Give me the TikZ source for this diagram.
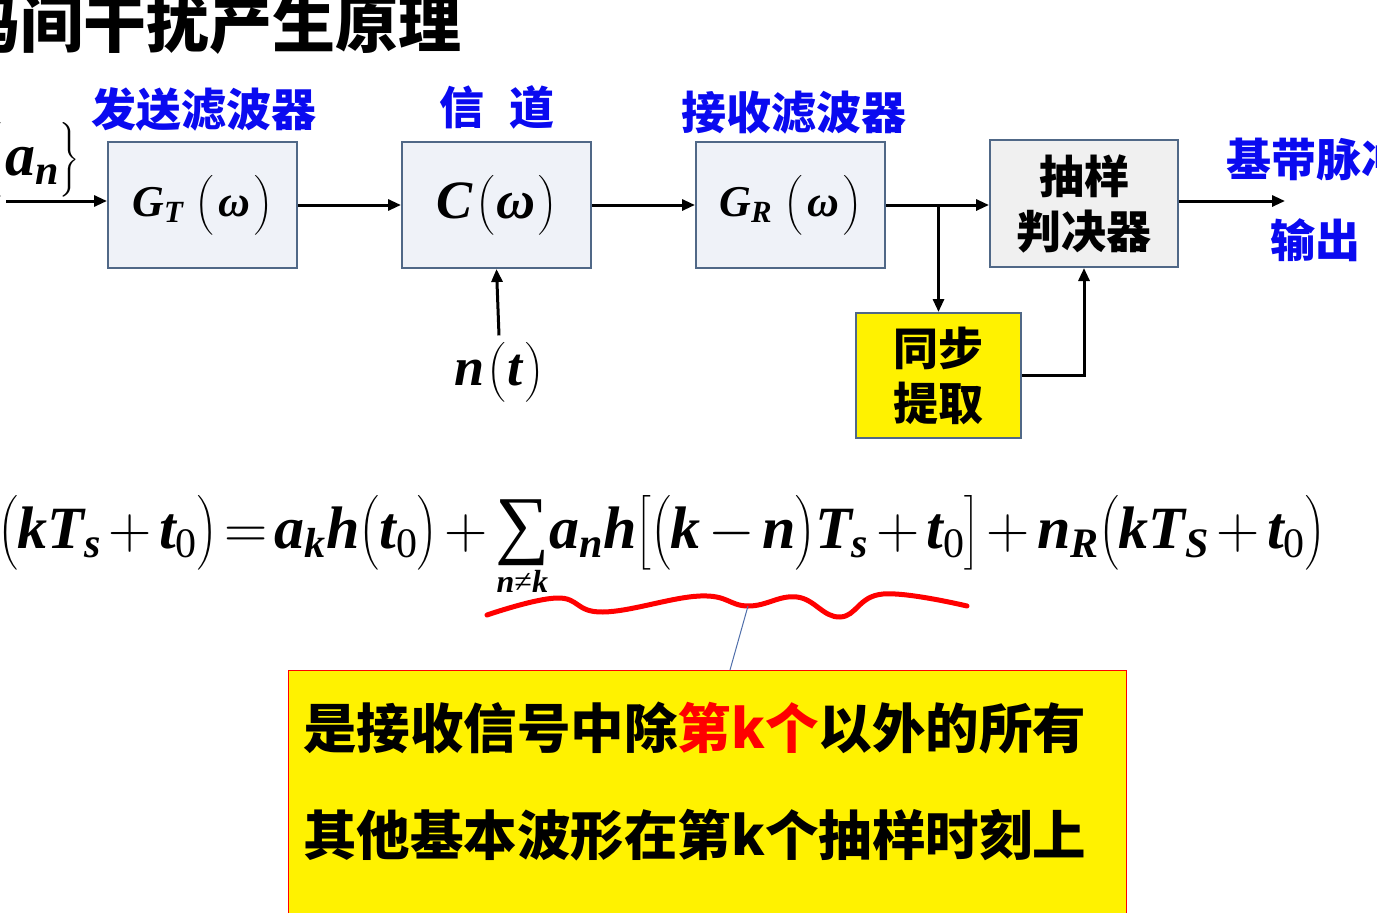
\RequirePackage{fix-cm}
\documentclass[tikz,border=0pt]{standalone}
\usepackage{amsmath}
\usepackage{fontspec}
\newfontfamily\cjk{Noto Sans CJK SC}
\newfontfamily\tnr{Liberation Serif}
\usetikzlibrary{arrows.meta}
\definecolor{boxfill}{RGB}{239,242,248}
\definecolor{boxline}{RGB}{80,104,135}
\definecolor{greyfill}{RGB}{240,240,240}
\definecolor{lblblue}{RGB}{10,10,240}
\definecolor{steel}{RGB}{79,110,170}
\newcommand\bi[1]{\text{\tnr\bfseries\itshape #1}}
\newcommand\rz[1]{\text{\tnr #1}}
\newcommand\fs[2]{\fontsize{#1}{#2}\selectfont}
\newcommand\bigsum{\mathop{\vcenter{\hbox{\tnr\fs{76}{80}∑}}}}
\newcommand\sumsub{\hbox{\tnr\fs{32}{32}\bfseries\itshape n\mdseries\upshape≠\bfseries\itshape k}}
\begin{document}
\begin{tikzpicture}[x=1pt,y=-1pt,
  blk/.style={draw=boxline, line width=2pt, fill=boxfill, minimum width=189pt, minimum height=126pt, inner sep=0pt, align=center},
  arr/.style={line width=3pt, -{Triangle[length=13pt,width=11pt]}},
  cn/.style={font=\cjk\bfseries\fs{45}{55}, align=center, inner sep=0pt},
  bl/.style={cn, text=lblblue}]
\useasboundingbox (0,0) rectangle (1377,913);
\clip (0,0) rectangle (1377,913);
% title
\node[anchor=east, inner sep=0pt, font=\cjk\bfseries\fs{63}{70}] (title) at (462,24) {码间干扰产生原理};
% blue labels
\node[bl] (lt) at (204,109) {发送滤波器};
\node[bl] (lc) at (497,107) {信\hspace{25pt}道};
\node[bl] (lr) at (794,113) {接收滤波器};
\node[bl, anchor=west] (lo1) at (1226,159) {基带脉冲};
\node[bl] (lo2) at (1315,240) {输出};
% input label
\node[anchor=base west, inner sep=0pt, font=\fs{60}{62}] (an) at (5,175) {$\bi{a}_{\bi{n}}\bigr\}$};
\node[anchor=base east, inner sep=0pt, font=\fs{60}{62}] (lb) at (an.base west) {$\bigl\{$};
% blocks
\node[blk, font=\fs{44}{68}] (gt) at (202.5,205) {$\bi{G}_{\bi{T}}\hspace{12pt}\bigl(\hspace{5pt}\bi{ω}\hspace{4pt}\bigr)$};
\node[blk, font=\fs{54}{76}] (c) at (496.5,205) {$\bi{C}\hspace{4pt}\bigl(\hspace{2pt}\bi{ω}\hspace{3pt}\bigr)$};
\node[blk, font=\fs{44}{68}] (gr) at (790.5,205) {$\bi{G}_{\bi{R}}\hspace{12pt}\bigl(\hspace{5pt}\bi{ω}\hspace{4pt}\bigr)$};
\node[blk, fill=greyfill, minimum width=188pt, minimum height=127pt, font=\cjk\bfseries\fs{45}{55}] (dec) at (1084,203.5) {抽样\\判决器};
\node[blk, fill=yellow, minimum width=165pt, minimum height=125pt, font=\cjk\bfseries\fs{45}{55}] (sync) at (938.5,375.5) {同步\\提取};
\node[inner sep=0pt, font=\fs{54}{68}] (nt) at (499,372) {$\bi{n}\hspace{3pt}\bigl(\hspace{2pt}\bi{t}\hspace{3pt}\bigr)$};
% connectors
\coordinate (in) at (6,201);
\coordinate (out) at (1285,201);
\coordinate (br) at (sync.north |- gr.east);
\draw[arr] (in) -- (in -| gt.west);
\draw[arr] (gt.east) -- (c.west);
\draw[arr] (c.east) -- (gr.west);
\draw[arr] (gr.east) -- (gr.east -| dec.west);
\draw[arr] (br) -- (sync.north);
\draw[arr] (sync.east) -| (dec.south);
\draw[arr] (dec.east |- out) -- (out);
\draw[arr] ([yshift=4pt]nt.north) -- (c.south);
% equation
\node[anchor=base west, inner sep=0pt, font=\fs{60}{93}] (eq) at (-2,548) {$\medmuskip=2.2mu\thickmuskip=2.2mu\bigl(\bi{k}\bi{T}_{\bi{s}}+\bi{t}_{\rz{0}}\bigr)=\bi{a}_{\bi{k}}\bi{h}\bigl(\bi{t}_{\rz{0}}\bigr)+\bigsum\limits_{\sumsub}\!\bi{a}_{\bi{n}}\bi{h}\bigl[\bigl(\bi{k}-\bi{n}\bigr)\bi{T}_{\bi{s}}+\bi{t}_{\rz{0}}\bigr]+\bi{n}_{\bi{R}}\bigl(\bi{k}\bi{T}_{\bi{S}}+\bi{t}_{\rz{0}}\bigr)$};
\node[anchor=base east, inner sep=0pt, font=\fs{60}{93}] (yy) at (eq.base west) {$\bi{y}$};
% red wavy underline
\draw[red, line width=5pt, line cap=round] plot[smooth, tension=0.7] coordinates {(487,615) (557,598) (603,612) (700,596) (748,606) (797,597) (840,617) (883,594) (967,606)};
% yellow note box
\node[draw=red, fill=yellow, line width=1pt, minimum width=838pt, minimum height=320pt, anchor=north west, inner sep=0pt] (yb) at (288,670) {};
\coordinate (wv) at (748,606);
\coordinate (lp) at (730,670);
\draw[steel, line width=1pt] (wv) -- (lp);
\node[anchor=west, inner sep=0pt, font=\cjk\bfseries\fs{53.5}{60}] (t1) at (303,728) {是接收信号中除\textcolor{red}{第k个}以外的所有};
\node[anchor=west, inner sep=0pt, font=\cjk\bfseries\fs{53.5}{60}] (t2) at (303,835) {其他基本波形在第k个抽样时刻上};
\end{tikzpicture}
\end{document}
